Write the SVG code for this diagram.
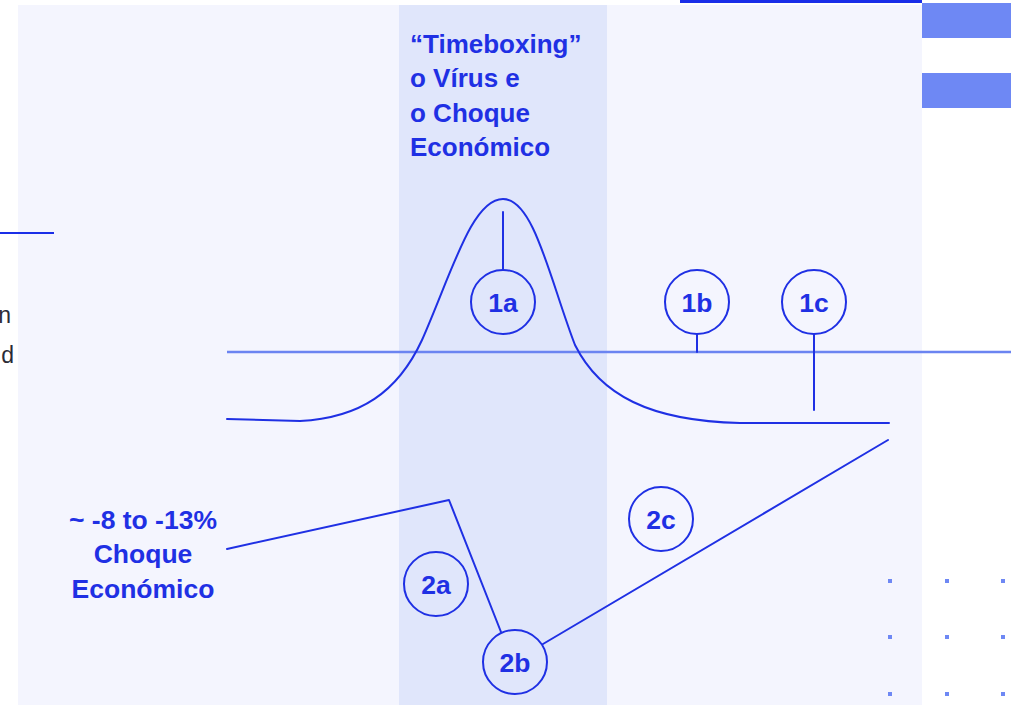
<svg xmlns="http://www.w3.org/2000/svg" width="1011" height="705" viewBox="0 0 1011 705">
  <style>
    .ink { fill: none; stroke: #1f30e4; stroke-width: 2; stroke-linecap: round; stroke-linejoin: round; }
    .axis { fill: none; stroke: #6b84f1; stroke-width: 2.5; }
    .bubble { fill: none; stroke: #1f30e4; stroke-width: 2; }
    .tag { font-family: "Liberation Sans", Arial, sans-serif; font-weight: 700; font-size: 26.5px; fill: #1f30e4; text-anchor: middle; }
    .head { font-family: "Liberation Sans", Arial, sans-serif; font-weight: 700; font-size: 26px; fill: #1f30e4; }
    .body { font-family: "Liberation Sans", Arial, sans-serif; font-size: 23px; fill: #2b2b36; text-anchor: end; }
    .dot { fill: #6e88f4; }
  </style>

  <!-- page background and panels -->
  <rect x="0" y="0" width="1011" height="705" fill="#ffffff"/>
  <rect x="18" y="5" width="904" height="700" fill="#f4f5fe"/>
  <rect x="399" y="5" width="208" height="700" fill="#e0e6fb"/>
  <rect x="680" y="0" width="242" height="3" fill="#1a2ee8"/>
  <rect x="922" y="3" width="89" height="35" fill="#6e88f4"/>
  <rect x="922" y="73" width="89" height="35" fill="#6e88f4"/>
  <line x1="0" y1="233" x2="54" y2="233" stroke="#1a2ee8" stroke-width="2"/>

  <!-- clipped body copy at the left edge -->
  <text class="body" x="11" y="323">n</text>
  <text class="body" x="14" y="363">d</text>

  <!-- decorative dot grid -->
  <g id="dots">
    <rect class="dot" x="888" y="579" width="4" height="4"/>
    <rect class="dot" x="945" y="579" width="4" height="4"/>
    <rect class="dot" x="1001" y="579" width="4" height="4"/>
    <rect class="dot" x="888" y="635" width="4" height="4"/>
    <rect class="dot" x="945" y="635" width="4" height="4"/>
    <rect class="dot" x="1001" y="635" width="4" height="4"/>
    <rect class="dot" x="888" y="692" width="4" height="4"/>
    <rect class="dot" x="945" y="692" width="4" height="4"/>
    <rect class="dot" x="1001" y="692" width="4" height="4"/>
  </g>

  <!-- headings -->
  <g id="title">
    <text class="head" x="410" y="53">“Timeboxing”</text>
    <text class="head" x="410" y="87">o Vírus e</text>
    <text class="head" x="410" y="122">o Choque</text>
    <text class="head" x="410" y="156">Económico</text>
  </g>
  <g id="shock-label">
    <text class="tag" x="143" y="529">~ -8 to -13%</text>
    <text class="tag" x="143" y="563">Choque</text>
    <text class="tag" x="143" y="598">Económico</text>
  </g>

  <!-- baseline, curves and leader lines -->
  <g id="connectors">
    <line class="axis" x1="227" y1="352" x2="1011" y2="352"/>
    <path class="ink" d="M227,419 L300,421 C360,418 398,392 422,340 C452,272 472,199 503,199 C534,199 550,280 575,345 C600,395 650,421 740,423 L889,423"/>
    <line class="ink" x1="503" y1="212" x2="503" y2="270"/>
    <line class="ink" x1="697" y1="334" x2="697" y2="352"/>
    <line class="ink" x1="814" y1="334" x2="814" y2="410"/>
    <path class="ink" d="M227,549 L449,500 L501,632"/>
    <line class="ink" x1="543" y1="644" x2="888" y2="440"/>
  </g>

  <!-- numbered markers -->
  <g id="node-1a"><circle class="bubble" cx="503" cy="302" r="32"/><text class="tag" x="503" y="312">1a</text></g>
  <g id="node-1b"><circle class="bubble" cx="697" cy="302" r="32"/><text class="tag" x="697" y="312">1b</text></g>
  <g id="node-1c"><circle class="bubble" cx="814" cy="302" r="32"/><text class="tag" x="814" y="312">1c</text></g>
  <g id="node-2a"><circle class="bubble" cx="436" cy="584" r="32"/><text class="tag" x="436" y="594">2a</text></g>
  <g id="node-2b"><circle class="bubble" cx="515" cy="662" r="32"/><text class="tag" x="515" y="672">2b</text></g>
  <g id="node-2c"><circle class="bubble" cx="661" cy="519" r="32"/><text class="tag" x="661" y="529">2c</text></g>
</svg>
